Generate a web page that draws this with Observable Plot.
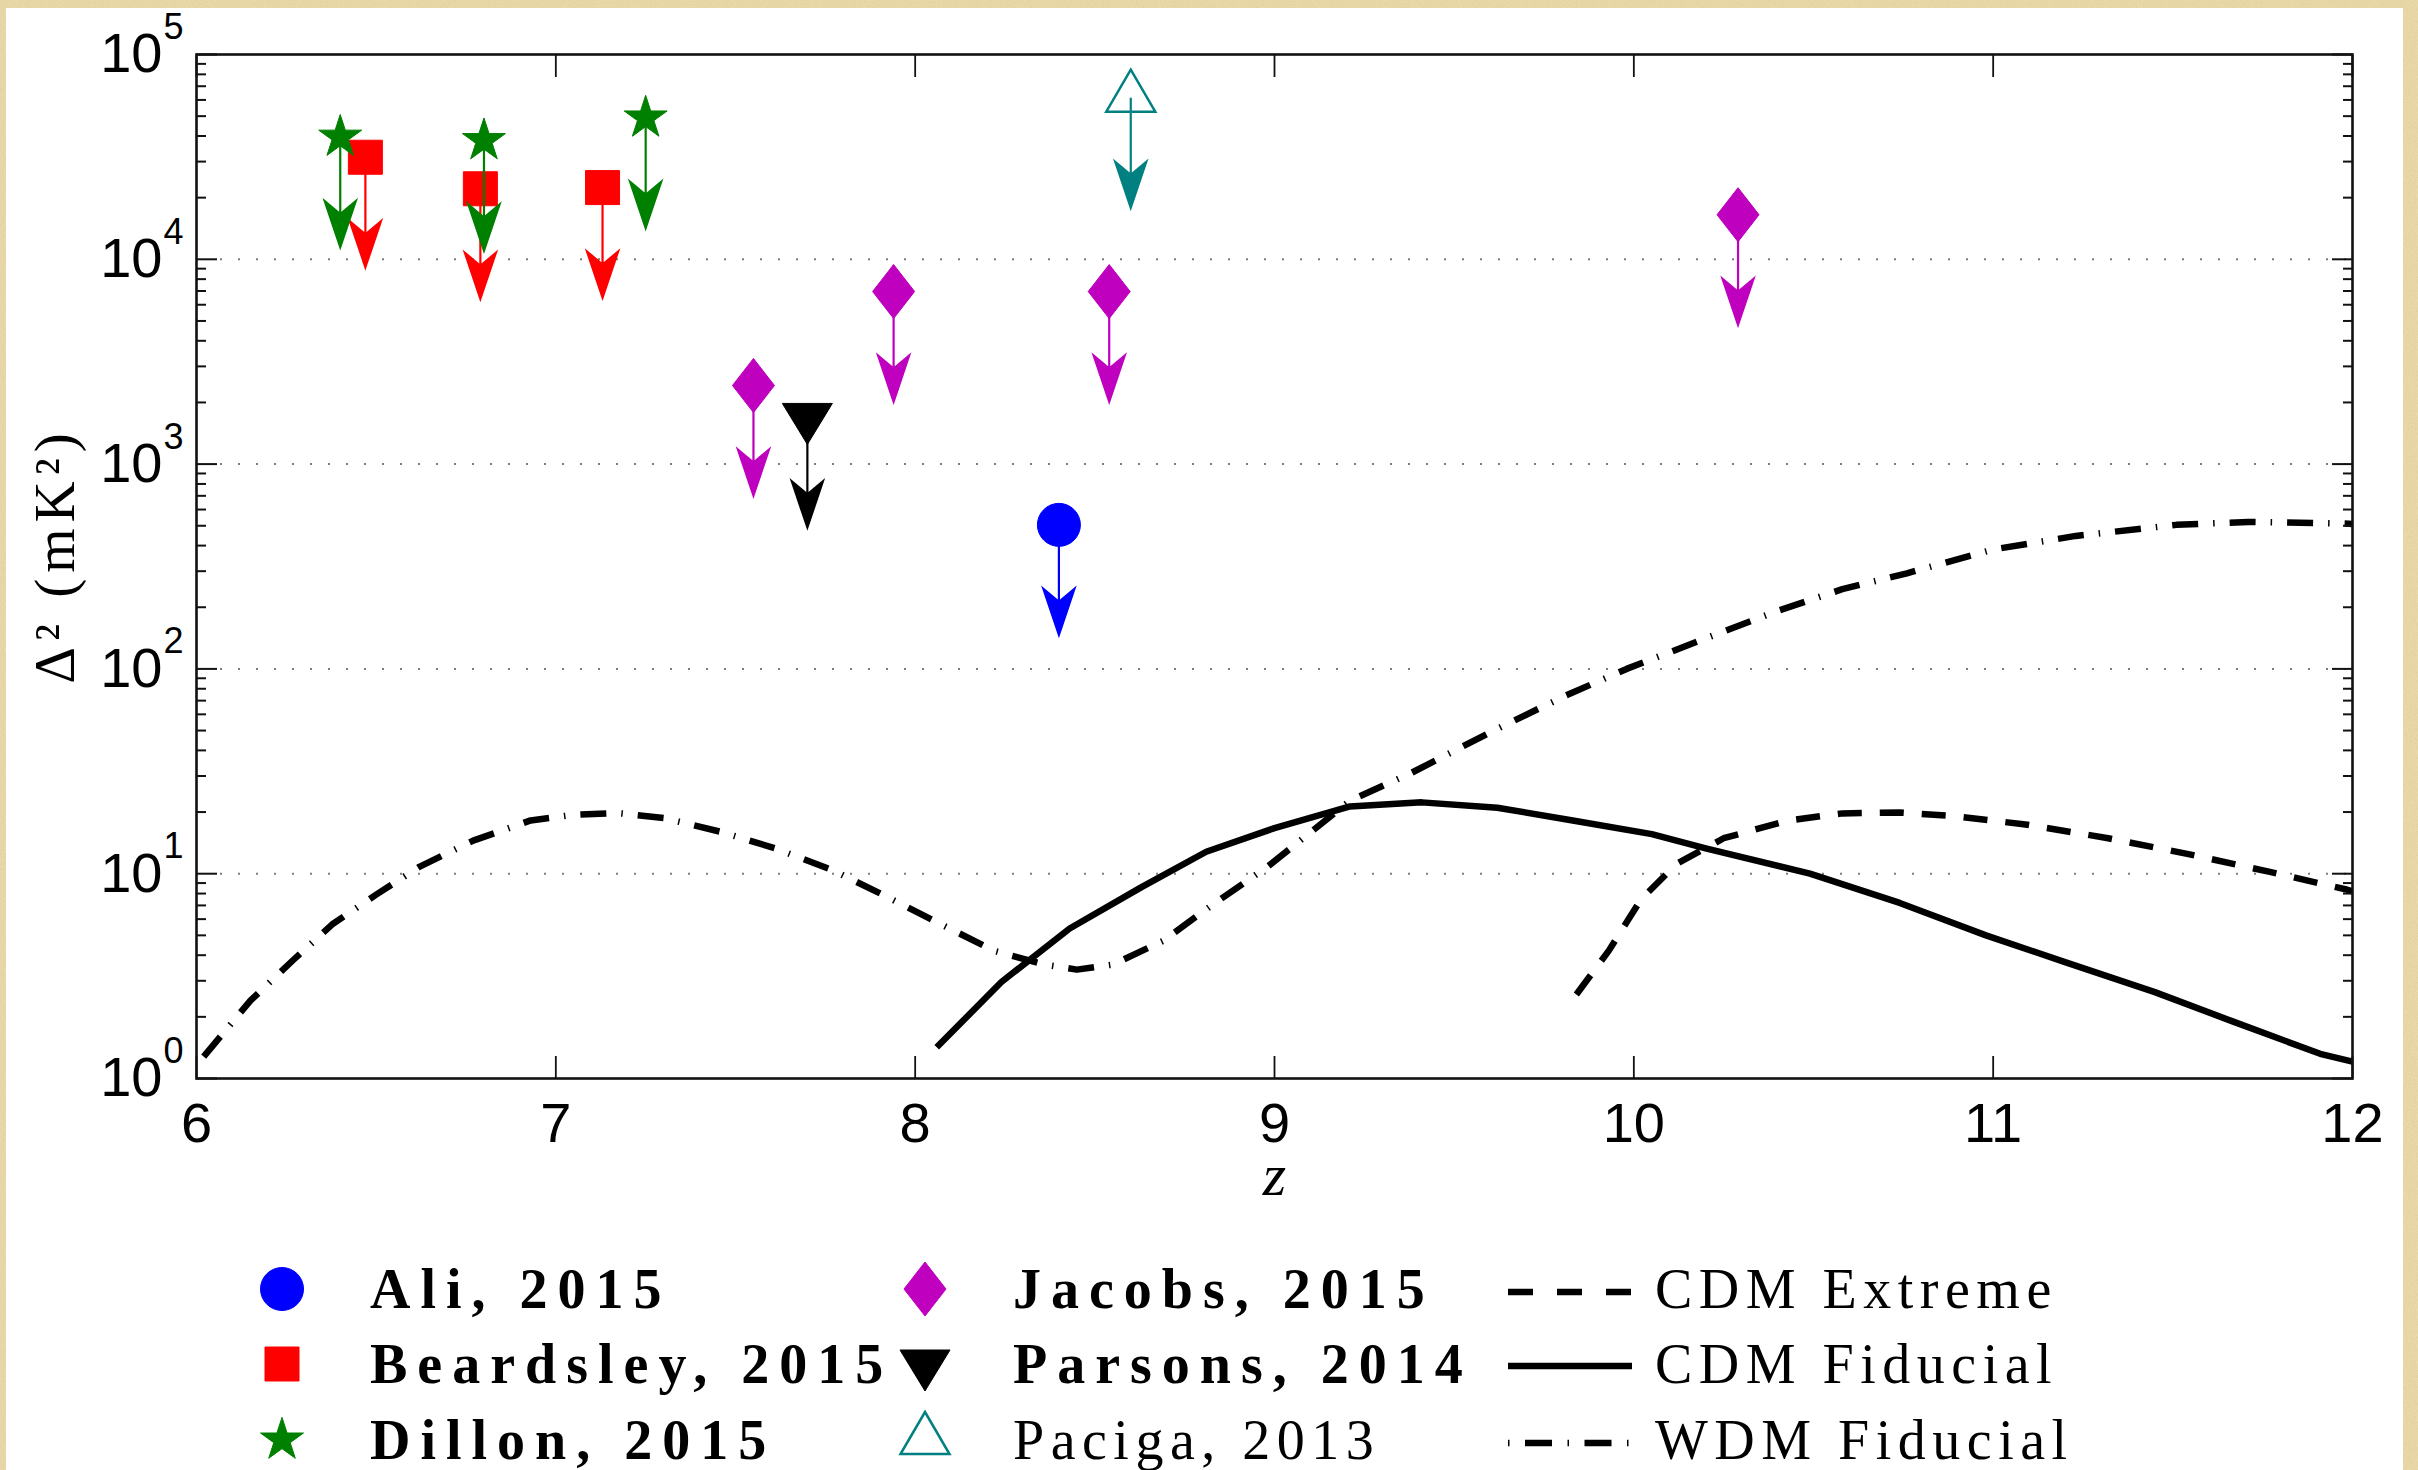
<!DOCTYPE html>
<html>
<head>
<meta charset="utf-8">
<script src="https://cdn.jsdelivr.net/npm/d3@7"></script>
<script src="https://cdn.jsdelivr.net/npm/@observablehq/plot@0.6"></script>
<style>
  html, body { margin: 0; padding: 0; width: 2418px; height: 1470px; overflow: hidden; background: #e9d9a9; }
  #paper { position: absolute; left: 0; top: 0; }
  #panel { position: absolute; left: 6px; top: 8px; width: 2397px; height: 1470px; background: #ffffff; }
  #chart { position: absolute; left: 0; top: 0; }
  #legend { position: absolute; left: 0; top: 1200px; }
</style>
</head>
<body>
<svg id="paper" width="2418" height="1470">
  <filter id="grain">
    <feTurbulence type="fractalNoise" baseFrequency="0.85" numOctaves="2" seed="7"/>
    <feColorMatrix type="matrix" values="0 0 0 0 0.62  0 0 0 0 0.52  0 0 0 0 0.28  0 0 0 1.4 -0.55"/>
  </filter>
  <rect width="2418" height="1470" fill="#ead9a8"/>
  <rect width="2418" height="1470" filter="url(#grain)" opacity="0.6"/>
</svg>
<div id="panel">
  <div id="chart"></div>
  <svg id="legend" width="2397" height="270"></svg>
</div>
<script>
// ---- 21-cm power spectrum upper limits (redshift z, Δ² in mK²) ----
const aliZ = [8.40];
const aliD = [505];
const beardsleyZ = [6.47, 6.79, 7.13];
const beardsleyD = [31500, 22100, 22400];
const dillonZ = [6.40, 6.80, 7.25];
const dillonD = [39500, 38000, 49000];
const jacobsZ = [7.55, 7.94, 8.54, 10.29];
const jacobsD = [2420, 6960, 6960, 16500];
const parsonsZ = [7.70];
const parsonsD = [1690];
const pacigaZ = [8.60];
const pacigaD = [61500];

// ---- model curves ----
const wdmZ = [6.02, 6.15, 6.27, 6.38, 6.50, 6.62, 6.77, 6.93, 7.05, 7.17, 7.30, 7.46, 7.61, 7.77, 7.91,
              8.06, 8.22, 8.36, 8.45, 8.55, 8.69, 8.82, 8.98, 9.21, 9.38, 9.61, 9.81, 9.98, 10.20,
              10.40, 10.58, 10.76, 11.00, 11.23, 11.51, 11.71, 11.96, 12.00];
const wdmD = [1.28, 2.4, 3.8, 5.7, 7.9, 10.8, 14.5, 18.2, 19.4, 19.8, 18.7, 16.0, 13.3, 10.4, 7.9,
              5.8, 4.2, 3.6, 3.4, 3.6, 4.7, 6.9, 10.8, 22.7, 31, 50, 74, 100, 141,
              192, 245, 293, 383, 446, 505, 522, 514, 510];
const cdmFidZ = [8.06, 8.24, 8.43, 8.63, 8.81, 9.00, 9.21, 9.41, 9.62, 9.83, 10.05, 10.20, 10.49,
                 10.74, 10.98, 11.20, 11.45, 11.67, 11.91, 12.00];
const cdmFidD = [1.42, 2.96, 5.4, 8.6, 12.8, 16.7, 21.3, 22.3, 21.0, 18.2, 15.6, 13.3, 10.0,
                 7.2, 5.0, 3.7, 2.64, 1.89, 1.32, 1.21];
const cdmExtZ = [9.84, 9.93, 10.02, 10.12, 10.25, 10.43, 10.58, 10.74, 10.89, 11.09, 11.32, 11.54, 11.77, 11.98, 12.00];
const cdmExtD = [2.57, 4.2, 7.5, 11.2, 14.9, 18.2, 19.7, 19.9, 19.1, 17.4, 14.9, 12.5, 10.2, 8.4, 8.2];

// ---- axes ----
const xTicks = [6, 7, 8, 9, 10, 11, 12];
const yExponents = [0, 1, 2, 3, 4, 5];
const gridExponents = [1, 2, 3, 4];
const minorMantissas = [2, 3, 4, 5, 6, 7, 8, 9];

const decades = yExponents.map(e => 10 ** e);
const gridLevels = gridExponents.map(e => 10 ** e);
const minorTicks = yExponents.slice(0, -1).flatMap(e => minorMantissas.map(m => m * 10 ** e));

const rows = (zs, ds) => zs.map((z, i) => ({z, d: ds[i]}));

// ---- marker shapes (pixel geometry, centred on the data point) ----
const circleSym = {draw(c) { c.moveTo(21.5, 0); c.arc(0, 0, 21.5, 0, 2 * Math.PI); c.closePath(); }};
const squareSym = {draw(c) { c.rect(-17, -17, 34, 34); }};
const starSym = {draw(c) {
  const R = 22.6, r = R * 0.382;
  for (let k = 0; k < 10; k++) {
    const a = -Math.PI / 2 + k * Math.PI / 5, rr = k % 2 ? r : R;
    const px = rr * Math.cos(a), py = rr * Math.sin(a);
    k ? c.lineTo(px, py) : c.moveTo(px, py);
  }
  c.closePath();
}};
const diamondSym = {draw(c) { c.moveTo(0, -27); c.lineTo(21, 0); c.lineTo(0, 27); c.lineTo(-21, 0); c.closePath(); }};
const triDownSym = {draw(c) { c.moveTo(-25, -14); c.lineTo(25, -14); c.lineTo(0, 27); c.closePath(); }};
const triUpSym = {draw(c) { c.moveTo(0, -28); c.lineTo(24.5, 14); c.lineTo(-24.5, 14); c.closePath(); }};
// upper-limit arrow: shaft from the point, barbed head pointing down
const arrowSym = {draw(c) {
  const L = 110;
  c.moveTo(0, 0); c.lineTo(0, L - 33);
  c.moveTo(0, L); c.lineTo(15.5, L - 46); c.lineTo(0, L - 33); c.lineTo(-15.5, L - 46); c.closePath();
}};

const series = [
  {label: "Ali, 2015",       data: rows(aliZ, aliD),             color: "#0000ff", symbol: circleSym,  filled: true,  bold: true},
  {label: "Beardsley, 2015", data: rows(beardsleyZ, beardsleyD), color: "#ff0000", symbol: squareSym,  filled: true,  bold: true},
  {label: "Dillon, 2015",    data: rows(dillonZ, dillonD),       color: "#008000", symbol: starSym,    filled: true,  bold: true},
  {label: "Jacobs, 2015",    data: rows(jacobsZ, jacobsD),       color: "#bf00bf", symbol: diamondSym, filled: true,  bold: true},
  {label: "Parsons, 2014",   data: rows(parsonsZ, parsonsD),     color: "#000000", symbol: triDownSym, filled: true,  bold: true},
  {label: "Paciga, 2013",    data: rows(pacigaZ, pacigaD),       color: "#008080", symbol: triUpSym,   filled: false, bold: false}
];

const models = [
  {label: "CDM Extreme",  data: rows(cdmExtZ, cdmExtD), dash: "24,18",          legendDash: "25,24"},
  {label: "CDM Fiducial", data: rows(cdmFidZ, cdmFidD), dash: null,             legendDash: null},
  {label: "WDM Fiducial", data: rows(wdmZ, wdmD),       dash: "26,15,1.5,15",   legendDash: "1.5,15.5,27,15.5"}
];

const sans = "'Liberation Sans', Arial, Helvetica, sans-serif";
const serif = "'Liberation Serif', 'Times New Roman', serif";
const ink = "#111111";
const yTitle = "Δ² (mK²)";

const marks = [
  Plot.ruleY(gridLevels, {stroke: "#7d7d7d", strokeWidth: 2, strokeDasharray: "2,16", insetLeft: 24})
];

for (const m of models) {
  marks.push(Plot.line(m.data, {
    x: "z", y: "d", stroke: "#000", strokeWidth: 6.5,
    strokeDasharray: m.dash ?? undefined, strokeLinecap: "butt", strokeLinejoin: "round"
  }));
}

for (const s of series) {
  marks.push(Plot.dot(s.data, {x: "z", y: "d", symbol: arrowSym, fill: s.color, stroke: s.color, strokeWidth: 2.2}));
  marks.push(Plot.dot(s.data, {
    x: "z", y: "d", symbol: s.symbol,
    fill: s.filled ? s.color : "none", stroke: s.color, strokeWidth: s.filled ? 1 : 2.5
  }));
}

marks.push(
  Plot.frame({stroke: ink, strokeWidth: 2.6}),
  // inward ticks on all four sides
  Plot.axisX(xTicks, {anchor: "bottom", tickSize: -22, tickFormat: () => "", label: null, stroke: ink, strokeWidth: 1.8}),
  Plot.axisX(xTicks, {anchor: "top", tickSize: -22, tickFormat: () => "", label: null, stroke: ink, strokeWidth: 1.8}),
  Plot.axisX(xTicks, {anchor: "bottom", tickSize: 0, tickPadding: 24, tickFormat: d => String(d), label: null,
                      fontSize: 56, fontFamily: sans, fill: "#000"}),
  Plot.axisY(decades, {anchor: "left", tickSize: -21, tickFormat: () => "", label: null, stroke: ink, strokeWidth: 2}),
  Plot.axisY(decades, {anchor: "right", tickSize: -21, tickFormat: () => "", label: null, stroke: ink, strokeWidth: 2}),
  Plot.axisY(minorTicks, {anchor: "left", tickSize: -10, tickFormat: () => "", label: null, stroke: ink, strokeWidth: 2}),
  Plot.axisY(minorTicks, {anchor: "right", tickSize: -10, tickFormat: () => "", label: null, stroke: ink, strokeWidth: 2}),
  // 10^k tick labels
  Plot.text(yExponents, {y: e => 10 ** e, text: () => "10", frameAnchor: "left", dx: -34, textAnchor: "end",
                         lineAnchor: "middle", fontSize: 56, fontFamily: sans, fill: "#000"}),
  Plot.text(yExponents, {y: e => 10 ** e, text: e => String(e), frameAnchor: "left", dx: -33, dy: -27,
                         textAnchor: "start", lineAnchor: "middle", fontSize: 36, fontFamily: sans, fill: "#000"}),
  // axis titles
  Plot.text([yTitle], {frameAnchor: "left", rotate: -90, dx: -141, dy: -11, textAnchor: "middle",
                       lineAnchor: "middle", fontSize: 57, fontFamily: serif, fill: "#000"}),
  Plot.text(["z"], {frameAnchor: "bottom", dy: 97, textAnchor: "middle", lineAnchor: "middle", fontSize: 60,
                    fontFamily: serif, fontStyle: "italic", fill: "#000"})
);

const chart = Plot.plot({
  width: 2397,
  height: 1200,
  marginLeft: 190,
  marginRight: 51,
  marginTop: 46,
  marginBottom: 130,
  x: {domain: [6, 12], label: null},
  y: {type: "log", domain: [1, 1e5], label: null},
  style: {background: "transparent", overflow: "visible"},
  marks
});
document.getElementById("chart").appendChild(chart);

// letter-spacing on the rotated title
d3.select(chart).selectAll("text").filter(function () { return this.textContent === yTitle; })
  .style("letter-spacing", "6px");

// ---- legend below the plot ----
const lg = d3.select("#legend");
const pathOf = sym => { const p = d3.path(); sym.draw(p, 0); return p.toString(); };
const baselines = [100, 175, 251];
const centres = [81, 156, 232];
const markerCols = [{mx: 276, tx: 364}, {mx: 919, tx: 1007}];

series.forEach((s, i) => {
  const col = markerCols[Math.floor(i / 3)], row = i % 3;
  lg.append("path")
    .attr("d", pathOf(s.symbol))
    .attr("transform", `translate(${col.mx},${centres[row]})`)
    .attr("fill", s.filled ? s.color : "none")
    .attr("stroke", s.color)
    .attr("stroke-width", s.filled ? 1 : 2.5);
  lg.append("text")
    .attr("x", col.tx).attr("y", baselines[row])
    .attr("font-family", serif).attr("font-size", 56)
    .attr("font-weight", s.bold ? "bold" : "normal")
    .style("letter-spacing", s.bold ? "10px" : "6.5px")
    .text(s.label);
});

const lineRows = [84, 158, 235];
models.forEach((m, i) => {
  lg.append("line")
    .attr("x1", 1502).attr("x2", 1626).attr("y1", lineRows[i]).attr("y2", lineRows[i])
    .attr("stroke", "#000").attr("stroke-width", 6.5)
    .attr("stroke-dasharray", m.legendDash);
  lg.append("text")
    .attr("x", 1649).attr("y", baselines[i])
    .attr("font-family", serif).attr("font-size", 56)
    .style("letter-spacing", "6.5px")
    .text(m.label);
});
</script>
</body>
</html>
